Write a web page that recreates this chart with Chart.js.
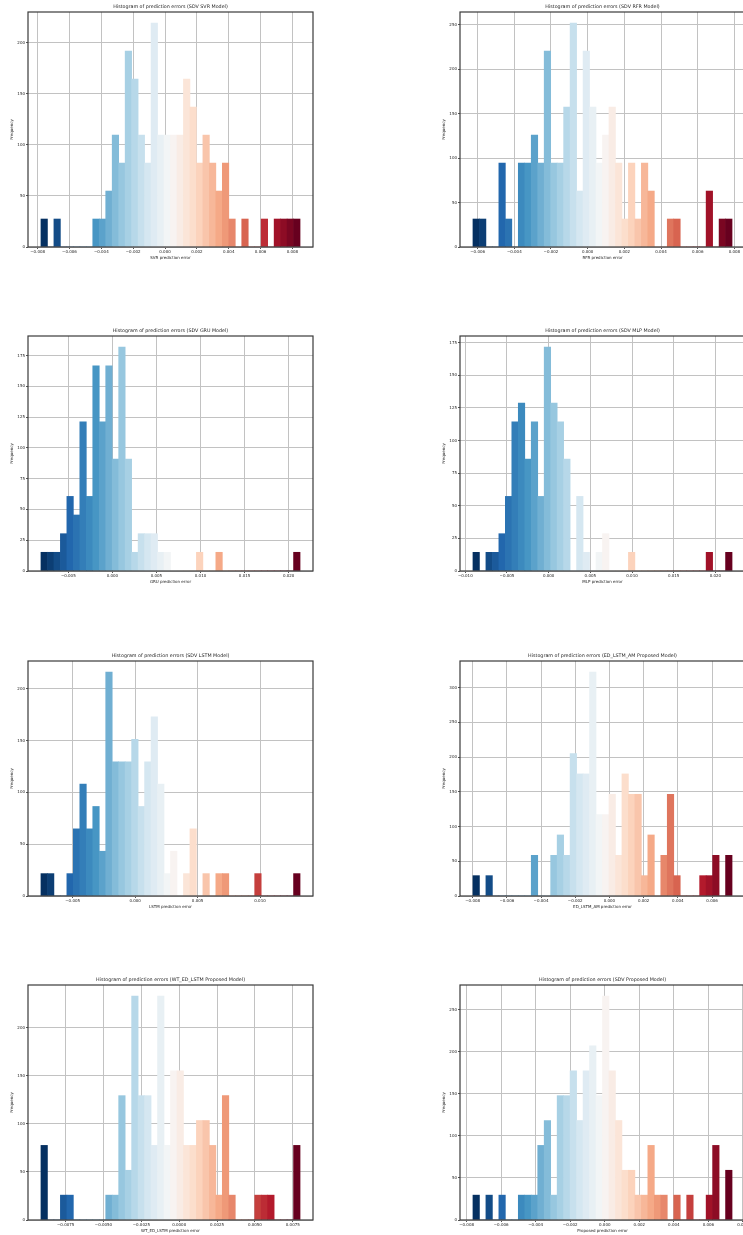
<!DOCTYPE html>
<html>
<head>
<meta charset="utf-8">
<script src="https://cdn.jsdelivr.net/npm/chart.js@4.4.0/dist/chart.umd.min.js"></script>
<style>
html, body { margin: 0; padding: 0; background: #fff; width: 743px; height: 1235px; overflow: hidden; }
canvas { position: absolute; }
</style>
</head>
<body>
<canvas id="svr" width="330" height="265" style="left:0px;top:0px"></canvas>
<canvas id="rfr" width="330" height="265" style="left:432px;top:0px"></canvas>
<canvas id="gru" width="330" height="265" style="left:0px;top:324px"></canvas>
<canvas id="mlp" width="330" height="265" style="left:432px;top:324px"></canvas>
<canvas id="lstm" width="330" height="265" style="left:0px;top:649px"></canvas>
<canvas id="edlstm" width="330" height="265" style="left:432px;top:649px"></canvas>
<canvas id="wted" width="330" height="265" style="left:0px;top:973px"></canvas>
<canvas id="prop" width="330" height="265" style="left:432px;top:973px"></canvas>
<script>
// histogram data: [first bin edge, last bin edge] and 40 bin frequencies each
const svrRange = [-0.00779, 0.00848];
const svrFreq = [27.4, 0, 27.4, 0, 0, 0, 0, 0, 27.4, 27.4,
  54.8, 109.6, 82.2, 191.8, 164.4, 109.6, 82.2, 219.2, 109.6, 109.6,
  109.6, 109.6, 164.4, 137, 82.2, 109.6, 82.2, 54.8, 82.2, 27.4,
  0, 27.4, 0, 0, 27.4, 0, 27.4, 27.4, 27.4, 27.4];
const svrTicks = [-0.008, -0.006, -0.004, -0.002, 0, 0.002, 0.004, 0.006, 0.008];
const svrYTicks = [0, 50, 100, 150, 200];

const rfrRange = [-0.006255, 0.007872];
const rfrFreq = [31.5, 31.5, 0, 0, 94.5, 31.5, 0, 94.5, 94.5, 126,
  94.5, 220.5, 94.5, 94.5, 157.5, 252, 63, 220.5, 157.5, 94.5,
  126, 157.5, 94.5, 31.5, 94.5, 31.5, 94.5, 63, 0, 0,
  31.5, 31.5, 0, 0, 0, 0, 63, 0, 31.5, 31.5];
const rfrTicks = [-0.006, -0.004, -0.002, 0, 0.002, 0.004, 0.006, 0.008];
const rfrYTicks = [0, 50, 100, 150, 200, 250];

const gruRange = [-0.0081, 0.02129];
const gruFreq = [15.2, 15.2, 15.2, 30.3, 60.6, 45.5, 121.2, 60.6, 166.7, 121.2,
  166.7, 90.9, 181.8, 90.9, 15.2, 30.3, 30.3, 30.3, 15.2, 15.2,
  0, 0, 0, 0, 15.2, 0, 0, 15.2, 0, 0,
  0, 0, 0, 0, 0, 0, 0, 0, 0, 15.2];
const gruTicks = [-0.005, 0, 0.005, 0.010, 0.015, 0.020];
const gruYTicks = [0, 25, 50, 75, 100, 125, 150, 175];

const mlpRange = [-0.00908, 0.0220];
const mlpFreq = [14.3, 0, 14.3, 14.3, 28.6, 57.2, 114.4, 128.7, 85.8, 114.4,
  57.2, 171.6, 128.7, 114.4, 85.8, 0, 57.2, 14.3, 0, 14.3,
  28.6, 0, 0, 0, 14.3, 0, 0, 0, 0, 0,
  0, 0, 0, 0, 0, 0, 14.3, 0, 0, 14.3];
const mlpTicks = [-0.010, -0.005, 0, 0.005, 0.010, 0.015, 0.020];
const mlpYTicks = [0, 25, 50, 75, 100, 125, 150, 175];

const lstmRange = [-0.007536, 0.013203];
const lstmFreq = [21.6, 21.6, 0, 0, 21.6, 64.8, 108, 64.8, 86.4, 43.2,
  216, 129.6, 129.6, 129.6, 151.2, 86.4, 129.6, 172.8, 108, 21.6,
  43.2, 0, 21.6, 64.8, 0, 21.6, 0, 21.6, 21.6, 0,
  0, 0, 0, 21.6, 0, 0, 0, 0, 0, 21.6];
const lstmTicks = [-0.005, 0, 0.005, 0.010];
const lstmYTicks = [0, 50, 100, 150, 200];

const edRange = [-0.00798, 0.00717];
const edFreq = [29.3, 0, 29.3, 0, 0, 0, 0, 0, 0, 58.6,
  0, 0, 58.6, 87.9, 58.6, 205.1, 175.8, 175.8, 322.3, 117.2,
  117.2, 146.5, 58.6, 175.8, 146.5, 146.5, 29.3, 87.9, 0, 58.6,
  146.5, 29.3, 0, 0, 0, 29.3, 29.3, 58.6, 0, 58.6];
const edTicks = [-0.008, -0.006, -0.004, -0.002, 0, 0.002, 0.004, 0.006];
const edYTicks = [0, 50, 100, 150, 200, 250, 300];

const wtRange = [-0.00913, 0.00798];
const wtFreq = [77.7, 0, 0, 25.9, 25.9, 0, 0, 0, 0, 0,
  25.9, 25.9, 129.5, 51.8, 233.1, 129.5, 129.5, 77.7, 233.1, 77.7,
  155.4, 155.4, 77.7, 77.7, 103.6, 103.6, 77.7, 25.9, 129.5, 25.9,
  0, 0, 0, 25.9, 25.9, 25.9, 0, 0, 0, 77.7];
const wtTicks = [-0.0075, -0.0050, -0.0025, 0, 0.0025, 0.0050, 0.0075];
const wtYTicks = [0, 50, 100, 150, 200];

const propRange = [-0.00763, 0.00737];
const propFreq = [29.6, 0, 29.6, 0, 29.6, 0, 0, 29.6, 29.6, 29.6,
  88.8, 118.4, 29.6, 148, 148, 177.6, 118.4, 177.6, 207.2, 148,
  266.4, 177.6, 118.4, 59.2, 59.2, 29.6, 29.6, 88.8, 29.6, 29.6,
  0, 29.6, 0, 29.6, 0, 0, 29.6, 88.8, 0, 59.2];
const propTicks = [-0.008, -0.006, -0.004, -0.002, 0, 0.002, 0.004, 0.006, 0.008];
const propYTicks = [0, 50, 100, 150, 200, 250];

const FONT = 'DejaVu Sans';

// RdBu_r colormap
const rdbu = ['#053061', '#2166ac', '#4393c3', '#92c5de', '#d1e5f0', '#f7f7f7',
  '#fddbc7', '#f4a582', '#d6604d', '#b2182b', '#67001f'];
function cmap(t) {
  const p = t * (rdbu.length - 1);
  const i = Math.min(Math.floor(p), rdbu.length - 2);
  const f = p - i;
  const a = parseInt(rdbu[i].slice(1), 16), b = parseInt(rdbu[i + 1].slice(1), 16);
  const mix = sh => Math.round(((a >> sh) & 255) * (1 - f) + ((b >> sh) & 255) * f);
  return 'rgb(' + mix(16) + ',' + mix(8) + ',' + mix(0) + ')';
}

const frame = {
  id: 'frame',
  afterDraw(chart) {
    const a = chart.chartArea, ctx = chart.ctx;
    ctx.save();
    ctx.strokeStyle = '#3a3a3a';
    ctx.lineWidth = 1.2;
    ctx.strokeRect(a.left, a.top, a.right - a.left, a.bottom - a.top);
    ctx.restore();
  }
};

function fmt(v, d) {
  if (Math.abs(v) < 1e-12) return (0).toFixed(d);
  return (v < 0 ? '\u2212' : '') + Math.abs(v).toFixed(d);
}

function hist(id, range, freq, xTicks, yTicks, dec, title, xLabel) {
  const n = freq.length;
  const w = (range[1] - range[0]) / n;
  const pad = 0.05 * (range[1] - range[0]);
  const tickFont = { family: FONT, size: 4 };
  new Chart(document.getElementById(id), {
    type: 'bar',
    data: {
      datasets: [{
        data: freq.map((v, i) => ({ x: range[0] + (i + 0.5) * w, y: v })),
        backgroundColor: freq.map((v, i) => cmap(i / (n - 1))),
        borderWidth: 0,
        barPercentage: 1,
        categoryPercentage: 1
      }]
    },
    options: {
      responsive: false,
      animation: false,
      devicePixelRatio: 1,
      layout: { padding: { left: 0, top: 0, right: 17, bottom: 0 } },
      plugins: {
        legend: { display: false },
        tooltip: { enabled: false },
        title: {
          display: true, text: title, fullSize: false, color: '#222',
          font: { family: FONT, size: 4.8, weight: 'normal' },
          padding: { top: 3.8, bottom: 2.44 }
        }
      },
      scales: {
        x: {
          type: 'linear', offset: false, z: 1,
          min: range[0] - pad, max: range[1] + pad,
          afterBuildTicks: s => { s.ticks = xTicks.map(v => ({ value: v })); },
          afterFit: s => { s.height = 18; },
          grid: { offset: false, color: '#c2c2c2', lineWidth: 1, tickLength: 2, tickColor: '#555' },
          border: { display: false },
          ticks: { font: tickFont, color: '#222', padding: 0.3, maxRotation: 0, autoSkip: false,
                   callback: v => fmt(v, dec) },
          title: { display: true, text: xLabel, font: tickFont, color: '#222', padding: { top: 0, bottom: 4.9 } }
        },
        y: {
          min: 0, max: 1.05 * Math.max(...freq), z: 1,
          afterBuildTicks: s => { s.ticks = yTicks.map(v => ({ value: v })); },
          afterFit: s => { s.width = 28; },
          grid: { color: '#c2c2c2', lineWidth: 1, tickLength: 2, tickColor: '#555' },
          border: { display: false },
          ticks: { font: tickFont, color: '#222', padding: 1, callback: v => String(v) },
          title: { display: true, text: 'Frequency', font: tickFont, color: '#222', padding: { top: 9.9, bottom: 0 } }
        }
      }
    },
    plugins: [frame]
  });
}

hist('svr', svrRange, svrFreq, svrTicks, svrYTicks, 3, 'Histogram of prediction errors (SDV SVR Model)', 'SVR prediction error');
hist('rfr', rfrRange, rfrFreq, rfrTicks, rfrYTicks, 3, 'Histogram of prediction errors (SDV RFR Model)', 'RFR prediction error');
hist('gru', gruRange, gruFreq, gruTicks, gruYTicks, 3, 'Histogram of prediction errors (SDV GRU Model)', 'GRU prediction error');
hist('mlp', mlpRange, mlpFreq, mlpTicks, mlpYTicks, 3, 'Histogram of prediction errors (SDV MLP Model)', 'MLP prediction error');
hist('lstm', lstmRange, lstmFreq, lstmTicks, lstmYTicks, 3, 'Histogram of prediction errors (SDV LSTM Model)', 'LSTM prediction error');
hist('edlstm', edRange, edFreq, edTicks, edYTicks, 3, 'Histogram of prediction errors (ED_LSTM_AM Proposed Model)', 'ED_LSTM_AM prediction error');
hist('wted', wtRange, wtFreq, wtTicks, wtYTicks, 4, 'Histogram of prediction errors (WT_ED_LSTM Proposed Model)', 'WT_ED_LSTM prediction error');
hist('prop', propRange, propFreq, propTicks, propYTicks, 3, 'Histogram of prediction errors (SDV Proposed Model)', 'Proposed prediction error');
</script>
</body>
</html>
